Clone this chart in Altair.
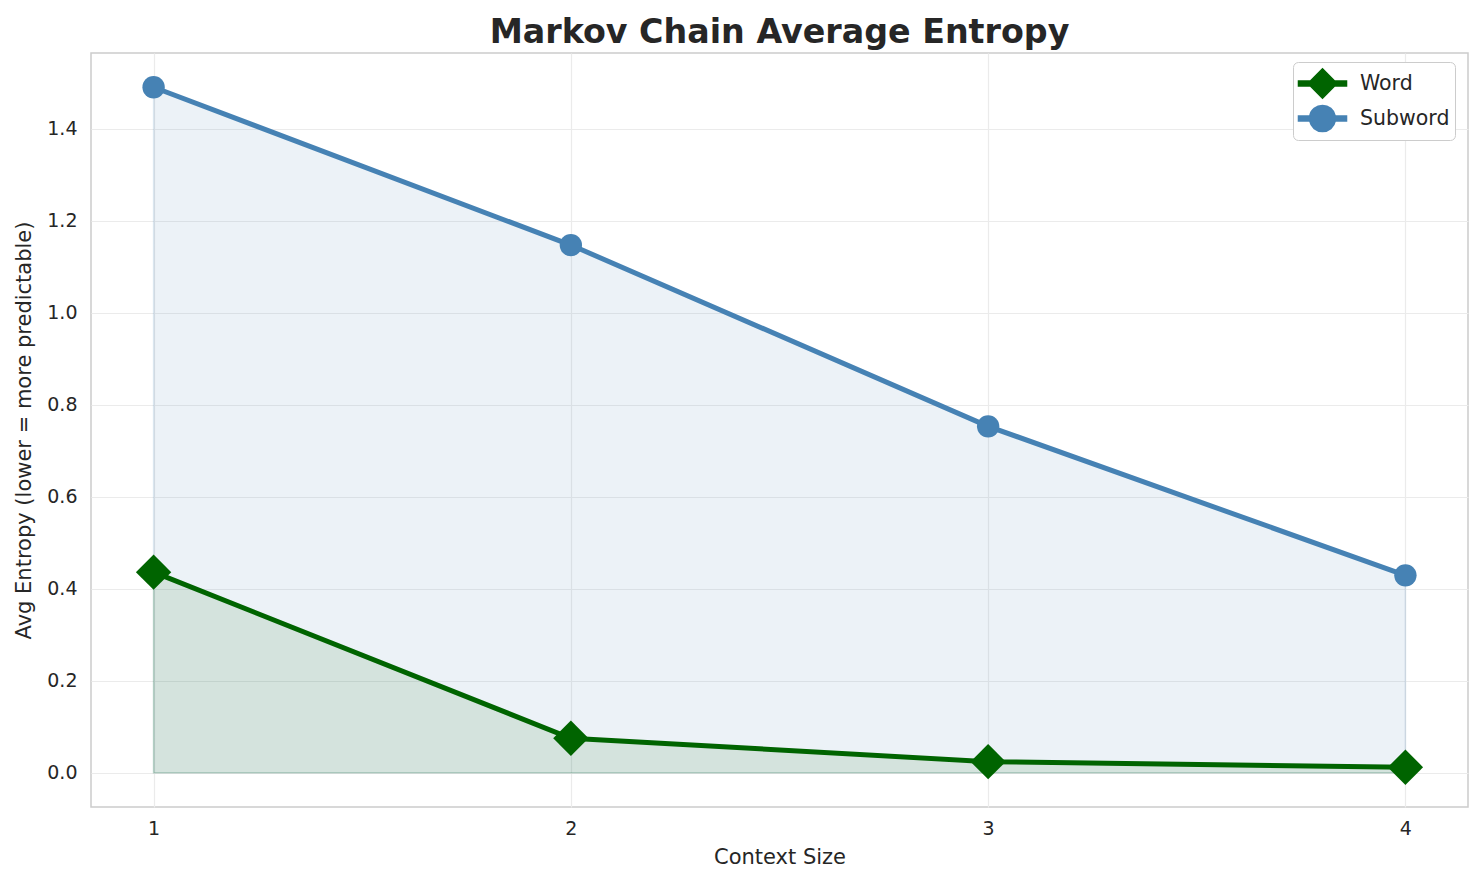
import altair as alt
import pandas as pd

contexts = [1, 2, 3, 4]
word_entropy = [0.436, 0.075, 0.024, 0.012]
subword_entropy = [1.490, 1.147, 0.753, 0.429]
series_names = ["Word", "Subword"]
series_colors = ["#006400", "#4682B4"]
y_ticks = [0.0, 0.2, 0.4, 0.6, 0.8, 1.0, 1.2, 1.4]

# legend glyphs: marker with a short line through it (path units scaled by sqrt(size)/2)
legend_shapes = [
    "M-1.55,-0.16L-0.78,-0.16L0,-0.94L0.78,-0.16L1.55,-0.16L1.55,0.16L0.78,0.16"
    "L0,0.94L-0.78,0.16L-1.55,0.16Z",
    "M-1.55,-0.16L-0.825,-0.16A0.84,0.84 0 0 1 0.825,-0.16L1.55,-0.16L1.55,0.16"
    "L0.825,0.16A0.84,0.84 0 0 1 -0.825,0.16L-1.55,0.16Z",
]

rows = []
for c, w, s in zip(contexts, word_entropy, subword_entropy):
    rows.append({"context": c, "series": "Word", "value": w})
    rows.append({"context": c, "series": "Subword", "value": s})
df = pd.DataFrame(rows)

FONT = "DejaVu Sans"
x_enc = alt.X("context:Q", title="Context Size",
              scale=alt.Scale(domain=[0.85, 4.15], nice=False, zero=False),
              axis=alt.Axis(values=contexts, format="d"))
y_enc = alt.Y("value:Q", title="Avg Entropy (lower = more predictable)",
              scale=alt.Scale(domain=[-0.0745, 1.5645], nice=False, zero=False),
              axis=alt.Axis(values=y_ticks, format=".1f"))
legend = alt.Legend(title=None, orient="none", legendX=1202, legendY=9, symbolOpacity=1)
color_enc = alt.Color("series:N", scale=alt.Scale(domain=series_names, range=series_colors),
                      legend=legend)
shape_enc = alt.Shape("series:N", scale=alt.Scale(domain=series_names, range=legend_shapes),
                      legend=legend)

base = alt.Chart(df)

area_sub = base.transform_filter(alt.datum.series == "Subword").mark_area(
    fill="#4682B4", fillOpacity=0.1, stroke="#4682B4", strokeOpacity=0.15, strokeWidth=1.5
).encode(x=x_enc, y=y_enc, y2=alt.Y2(datum=0))

area_word = base.transform_filter(alt.datum.series == "Word").mark_area(
    fill="#006400", fillOpacity=0.1, stroke="#006400", strokeOpacity=0.15, strokeWidth=1.5
).encode(x=x_enc, y=y_enc, y2=alt.Y2(datum=0))

lines = base.mark_line(strokeWidth=5).encode(x=x_enc, y=y_enc, color=color_enc, detail="series:N")

legend_layer = base.mark_point(filled=True, opacity=0).encode(
    x=x_enc, y=y_enc, color=color_enc, shape=shape_enc
)

pts_word = base.transform_filter(alt.datum.series == "Word").mark_point(
    filled=True, opacity=1, shape="diamond", size=1250, color="#006400"
).encode(x=x_enc, y=y_enc)
pts_sub = base.transform_filter(alt.datum.series == "Subword").mark_point(
    filled=True, opacity=1, shape="circle", size=500, color="#4682B4"
).encode(x=x_enc, y=y_enc)

chart = alt.layer(area_sub, area_word, lines, legend_layer, pts_word, pts_sub).properties(
    width=1377, height=754,
    title=alt.TitleParams("Markov Chain Average Entropy", fontSize=33.3, fontWeight="bold",
                          font=FONT, color="#262626", offset=3),
    autosize=alt.AutoSizeParams(type="none"),
    padding={"left": 83, "top": 45, "right": 8, "bottom": 70},
).configure_view(stroke="#cccccc", strokeWidth=1.5).configure_axis(
    labelFont=FONT, titleFont=FONT, labelFontSize=19, titleFontSize=21,
    labelColor="#262626", titleColor="#262626", titleFontWeight="normal",
    grid=True, gridColor="#ebebeb", gridWidth=1.2, domain=False, ticks=False,
    labelPadding=14,
).configure_axisX(labelPadding=12, titlePadding=8).configure_axisY(titlePadding=12).configure_legend(
    labelFont=FONT, labelFontSize=20.5, labelColor="#262626",
    fillColor="white", strokeColor="#cccccc", cornerRadius=5, padding=5,
    symbolSize=961, rowPadding=0, symbolOffset=8, labelOffset=21
)

chart.save("out.html", embed_options={"renderer": "svg", "actions": False})
